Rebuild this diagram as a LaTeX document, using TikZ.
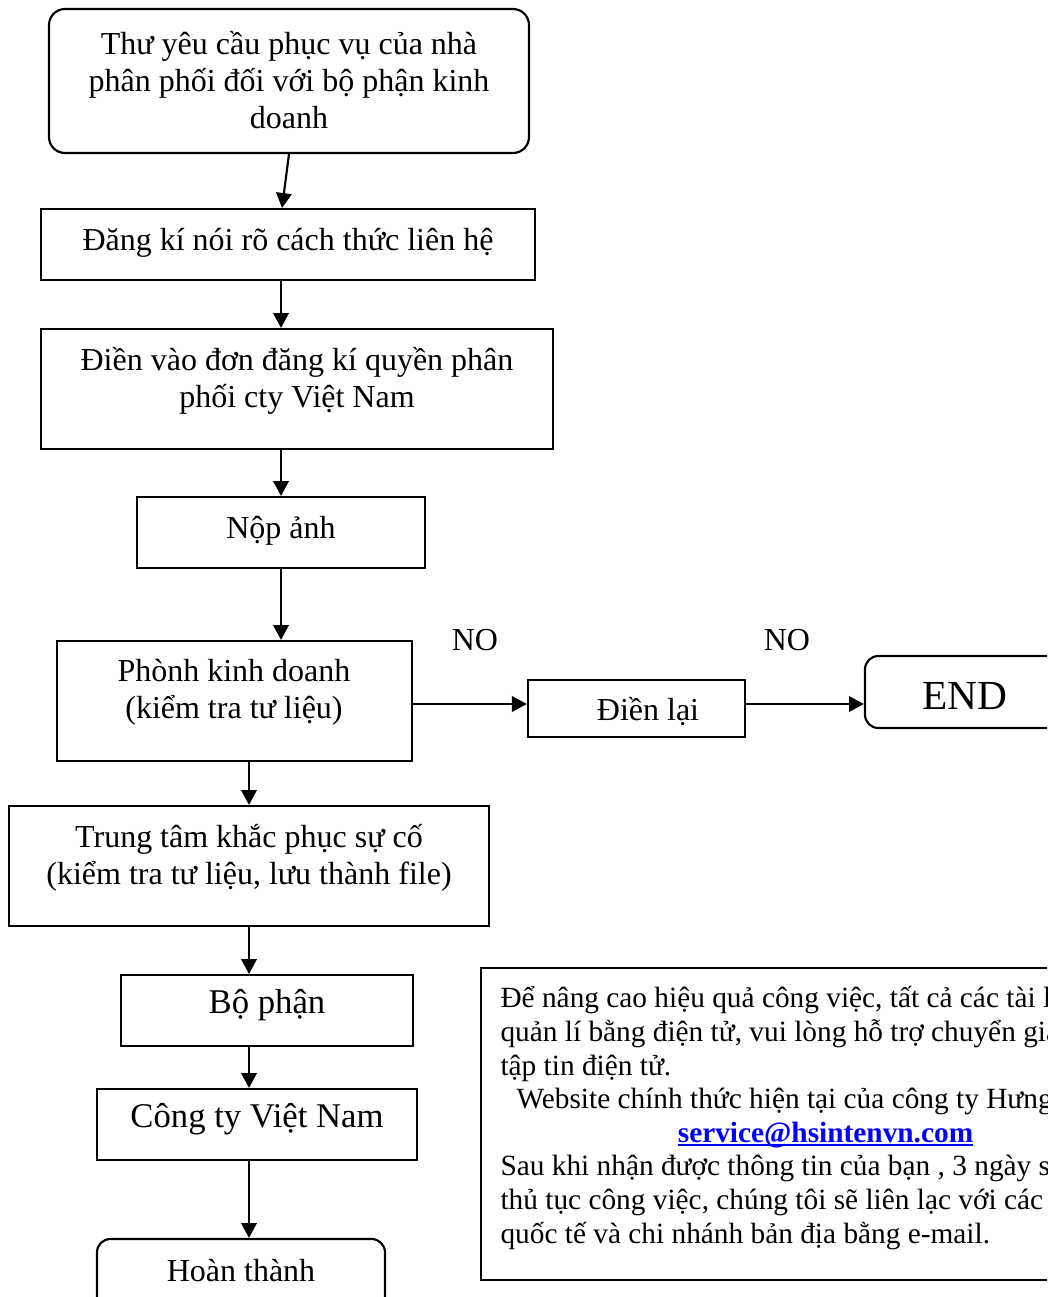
\documentclass[tikz,border=0pt]{standalone}
\usepackage{fontspec}
\setmainfont{Liberation Serif}
\usepackage{xcolor}
\usetikzlibrary{arrows.meta, positioning, calc}

\newcommand{\mailul}[1]{\setbox0\hbox{#1}\rlap{\rule[-1.6pt]{\wd0}{0.8pt}}\box0}

\tikzset{
  box/.style={draw, line width=0.8pt, rectangle, inner sep=0pt},
  rbox/.style={box, rounded corners=5pt},
  txt/.style={align=center, inner sep=0pt, font=\fontsize{12}{13.9}\selectfont},
  bigtxt/.style={txt, font=\fontsize{13}{15}\selectfont},
  arr/.style={-{Triangle[length=5.6pt, width=5.8pt]}, line width=0.8pt},
}

\begin{document}
\begin{tikzpicture}[x=0.375pt, y=-0.375pt]
\useasboundingbox (0,0) rectangle (1047,1297);
\clip (0,0) rectangle (1047,1297);

% Main column
\node[rbox, rounded corners=6pt, minimum width=180pt, minimum height=54pt] (thu) at (289,81) {};
\node[txt] (thu-t) at (289,80) {Thư yêu cầu phục vụ của nhà\\phân phối đối với bộ phận kinh\\doanh};
\node[box, minimum width=185.25pt, minimum height=26.6pt] (dangki) at (288,244.5) {};
\node[txt] (dangki-t) at (288,243) {Đăng kí nói rõ cách thức liên hệ};
\node[box, minimum width=192pt, minimum height=45pt] (dienvao) at (297,389) {};
\node[txt] (dienvao-t) at (297,381) {Điền vào đơn đăng kí quyền phân\\phối cty Việt Nam};
\node[box, minimum width=108pt, minimum height=26.6pt] (nop) at (281,532.5) {};
\node[txt] (nop-t) at (281,531) {Nộp ảnh};
\node[box, minimum width=133pt, minimum height=45pt] (phong) at (234.5,701) {};
\node[txt] (phong-t) at (234,692) {Phònh kinh doanh\\(kiểm tra tư liệu)};

% NO branch
\node[box, minimum width=81.4pt, minimum height=21.4pt] (dienlai) at (636.5,708.5) {};
\node[txt] (dienlai-t) at (648,712) {Điền lại};
\node[rbox, minimum width=75pt, minimum height=27pt] (end) at (965,692) {};
\node[txt, font=\fontsize{15.5}{17}\selectfont] (end-t) at (965,696) {END};
\node[txt] (no1) at (475,640) {NO};
\node[txt] (no2) at (787,640) {NO};
\coordinate (noy) at (0,704);

% Lower column
\node[box, minimum width=180pt, minimum height=45pt] (trungtam) at (249,866) {};
\node[txt] (trungtam-t) at (249,857.5) {Trung tâm khắc phục sự cố\\(kiểm tra tư liệu, lưu thành file)};
\node[box, minimum width=109.5pt, minimum height=26.6pt] (bophan) at (267,1010.5) {};
\node[bigtxt] (bophan-t) at (267,1005) {Bộ phận};
\node[box, minimum width=120pt, minimum height=26.6pt] (congty) at (257,1124.5) {};
\node[bigtxt] (congty-t) at (257,1119) {Công ty Việt Nam};
\node[rbox, minimum width=108pt, minimum height=37.5pt] (hoanthanh) at (241,1289) {};
\node[txt] (hoanthanh-t) at (241,1271) {Hoàn thành};

% Note box
\node[box, minimum width=232pt, minimum height=117pt] (note) at (790.5,1124) {};
\node[txt, align=left, anchor=north west, font=\fontsize{11}{12.6}\selectfont] (note-t) at (500,986)
  {Để nâng cao hiệu quả công việc, tất cả các tài liệu\\
   quản lí bằng điện tử, vui lòng hỗ trợ chuyển giao\\
   tập tin điện tử.\\
   \hspace*{6pt}Website chính thức hiện tại của công ty Hưng\\
   \hspace*{66.5pt}\textcolor{blue}{\mailul{\textbf{service@hsintenvn.com}}}\\
   Sau khi nhận được thông tin của bạn , 3 ngày sau\\
   thủ tục công việc, chúng tôi sẽ liên lạc với các\\
   quốc tế và chi nhánh bản địa bằng e-mail.};

% Arrows
\draw[arr] (thu.south) -- ($(dangki.north)+(-6,0)$);
\draw[arr] (dangki.south -| nop) -- (dienvao.north -| nop);
\draw[arr] (dienvao.south -| nop) -- (nop.north);
\draw[arr] (nop.south) -- (phong.north -| nop);
\draw[arr] (phong.east |- noy) -- (dienlai.west |- noy);
\draw[arr] (dienlai.east |- noy) -- (end.west |- noy);
\draw[arr] (phong.south -| trungtam) -- (trungtam.north);
\draw[arr] (trungtam.south) -- (bophan.north -| trungtam);
\draw[arr] (bophan.south -| trungtam) -- (congty.north -| trungtam);
\draw[arr] (congty.south -| trungtam) -- (hoanthanh.north -| trungtam);
\end{tikzpicture}
\end{document}
